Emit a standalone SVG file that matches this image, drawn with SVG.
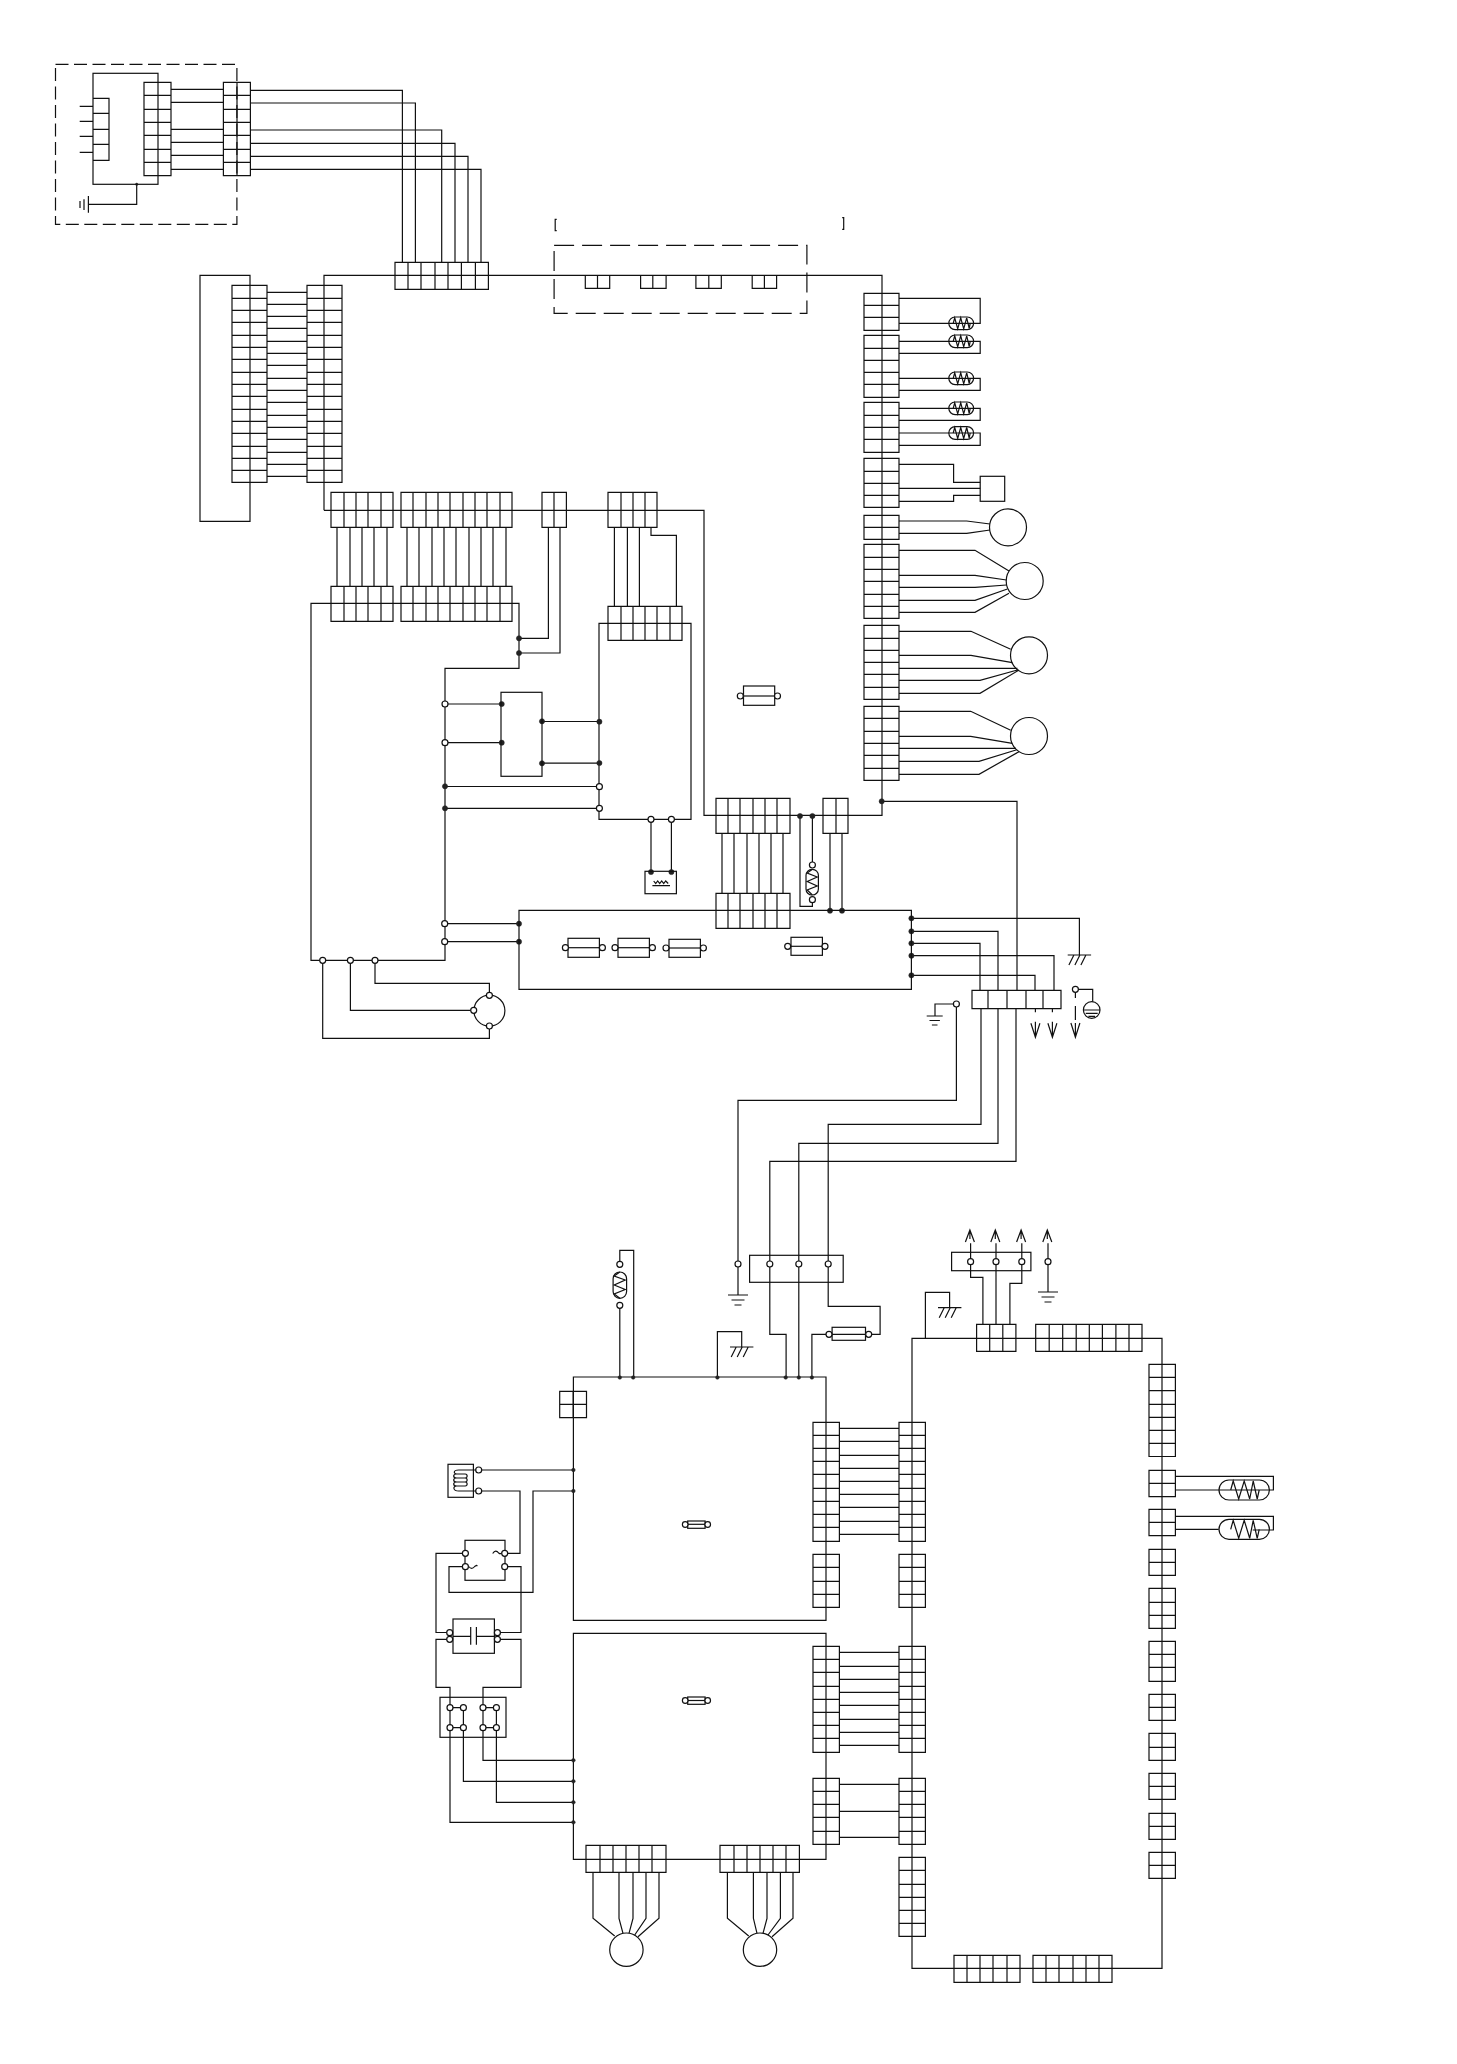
<svg xmlns="http://www.w3.org/2000/svg" xmlns:xlink="http://www.w3.org/1999/xlink" width="1457" height="2064" viewBox="0 0 1457 2064">
<style>
path,rect,circle,line{fill:none;stroke:#111;stroke-width:1.2}
.o{fill:#fff}
.f{fill:#222;stroke:#222;stroke-width:.5}
.d{stroke-dasharray:13 5.5}
.e{stroke-dasharray:20 8}
</style>
<defs>
<g id="th"><rect x="-12.4" y="-6.3" width="24.8" height="12.6" rx="6.3"/><path d="M-8-0L-6.5-5.5-3.5 5.5-.5-5.5 2.5 5.5 5.5-5.5 8 5 9-0"/></g>
<g id="heat"><rect x="-25.2" y="-10" width="50.4" height="20" rx="10"/><path d="M-13.5 0L-11-9-5.5 9 0-9 5.5 9 9-9 13 9 15 0"/></g>
<g id="ar"><path d="M0 0V9M-4.5 12L0 0 4.5 12"/></g>
<g id="ard"><path d="M0 0V3.6M0 13V28.6M-4.5 14.5L0 28.6 4.5 14.5"/></g>
<g id="hatch"><path d="M-11.7 0H11.7M-5.5 0L-10.5 10M.5 0L-4.5 10M6.5 0L1.5 10"/></g>
<g id="gnd"><path d="M-10 0H10M-6.5 5H6.5M-3.5 10H3.5"/></g>
</defs>
<g transform="translate(.7 0)">
<g id="connectors">
<path d="M170.3 89.3H222.7M170.3 102.3H222.7M170.3 129.3H222.7M170.3 142.3H222.7M170.3 155.3H222.7M170.3 169.3H222.7"/>
<path d="M249.7 90.3H401.7V262.3M249.7 103H414.7V262.3M249.7 130H441V262.3M249.7 143.3H454.3V262.3M249.7 156.3H467.3V262.3M249.7 169.3H480.3V262.3"/>
<path d="M136 184.3V204.3H87.7M87.7 196V212.7M83.3 199.3V210M79.3 201V208"/>
<path d="M79 106.3H92.3M79 121.3H92.3M79 136.3H92.3M79 152.3H92.3"/>
<path d="M323.3 510.3V275.3H881.3V815.3H703.3V510.3H323.3"/>
<path d="M199.3 275.3H249.3V521.3H199.3Z"/>
<path d="M266.3 292.3H306.3M266.3 304.3H306.3M266.3 316.3H306.3M266.3 328.3H306.3M266.3 341.3H306.3M266.3 353.3H306.3M266.3 365.3H306.3M266.3 378.3H306.3M266.3 390.3H306.3M266.3 402.3H306.3M266.3 415.3H306.3M266.3 427.3H306.3M266.3 439.3H306.3M266.3 452.3H306.3M266.3 464.3H306.3M266.3 476.3H306.3"/>
<path d="M336.3 527.3V586.3M349.3 527.3V586.3M361.3 527.3V586.3M373.3 527.3V586.3M386.3 527.3V586.3M406.3 527.3V586.3M418.3 527.3V586.3M431.3 527.3V586.3M443.3 527.3V586.3M455.3 527.3V586.3M468.3 527.3V586.3M480.3 527.3V586.3M492.3 527.3V586.3M505.3 527.3V586.3"/>
<path d="M310.3 603.3H518.3V668.3H444.3V960.3H310.3Z"/>
<path d="M518.3 638.3H547.7V527.3M518.3 653H559.3V527.3"/>
<path d="M613.7 527.3V606.3M626.7 527.3V606.3M638.7 527.3V606.3M650.3 527.3V535.3H675.7V606.3"/>
<path d="M598.3 623.3H690.3V819.3H598.3Z"/>
<path d="M650.3 819.3V872M670.7 819.3V872"/>
<path d="M444.3 704H501M444.3 742.7H501M541.3 721.5H598.3M541.3 763.2H598.3M444.3 786.5H598.3M444.3 808.3H598.3M444.3 923.7H518.3M444.3 941.7H518.3"/>
<path d="M374.3 960.3V983.3H488.7V995.3M349.7 960.3V1010.3H473M322 960.3V1038.3H488.7V1026"/>
<path d="M721.3 833.3V893.3M733.3 833.3V893.3M746.3 833.3V893.3M758.3 833.3V893.3M770.3 833.3V893.3M782.3 833.3V893.3"/>
<path d="M829.3 833.3V910.3M841.3 833.3V910.3M799.3 816V906.3H811.7V899.7M811.7 816V865"/>
<path d="M881.3 801.3H1016.3V990.3M910.7 918.3H1078.7V955M910.7 931.3H997.3V990.3M910.7 943.3H979.3V990.3M910.7 955.7H1053.3V990.3M910.7 975.3H1034.3V990.3"/>
<path d="M1074.7 989.3H1092V1001.7M1074.7 992V998M1074.7 1006V1020"/>
<path d="M955.7 1004H934.3V1016M955.7 1004V1100.3H737.3V1295"/>
<path d="M980.3 1008.7V1124.3H827.5V1306.3H879.4V1334.3H868M997.3 1008.7V1143.3H798.1V1377M1015.3 1008.7V1161.3H769.1V1334.3H785.4V1377"/>
<path d="M828.3 1334.3H811.2V1377"/>
<path d="M898.3 298.3H979.5V323.3H898.3M898.3 341.3H979.5V353.3H898.3M898.3 378.3H979.5V390.3H898.3M898.3 408.3H979.5V420.3H898.3M898.3 433H979.5V445.3H898.3"/>
<path d="M898.3 464.3H952.9V482.3H979.5M898.3 488.3H979.5M979.5 495.3H952.9V501.3H898.3"/>
<path d="M898.3 521H966L989.3 524M898.3 533.3H966L989.3 530"/>
<path d="M898.3 550.3H974.3L1008.3 571M898.3 575.3H974.3L1005.7 580M898.3 587.3H974.3L1005.7 585M898.3 600.3H974.3L1006.7 589M898.3 612.3H974.3L1008.3 593.3"/>
<path d="M898.3 631.3H970.3L1010 649.3M898.3 655.3H970.3L1011.7 662.7M898.3 668.3H1016.7M898.3 680.3H979.3L1016.7 670M898.3 693.3H979.3L1018.3 670"/>
<path d="M898.3 711.3H970L1010 730.3M898.3 736.3H970L1011.7 743.3M898.3 748.3H1015.3M898.3 761.3H978.3L1015.3 750M898.3 774.3H978.3L1018.3 751.7"/>
<path d="M619.1 1377V1305.3M619.1 1264.3V1250.3H633V1377"/>
<path d="M716.7 1377V1331.7H741V1347"/>
<path d="M838.7 1428.3H898.3M838.7 1441.3H898.3M838.7 1455.3H898.3M838.7 1468.3H898.3M838.7 1481.3H898.3M838.7 1494.3H898.3M838.7 1507.3H898.3M838.7 1521.3H898.3M838.7 1534.3H898.3"/>
<path d="M838.7 1652.3H898.3M838.7 1666.3H898.3M838.7 1679.3H898.3M838.7 1692.3H898.3M838.7 1705.3H898.3M838.7 1719.3H898.3M838.7 1732.3H898.3M838.7 1745.3H898.3M838.7 1784.3H898.3M838.7 1811.3H898.3M838.7 1837.3H898.3"/>
<path d="M572.7 1377H825.3V1620.3H572.7ZM572.7 1633.3H825.3V1859.3H572.7Z"/>
<path d="M911.3 1968.3V1338.3H1161.3V1968.3Z"/>
<path d="M1174.7 1476.3H1272.7V1490H1174.7M1174.7 1516.3H1272.7V1530H1252M1174.7 1529.3H1218"/>
<path d="M982.2 1324.3V1277.3H969.9V1261.7M995.3 1324.3V1261.7M1009.2 1324.3V1283.3H1021.1V1261.7"/>
<path d="M1047.3 1261.7V1292"/>
<path d="M924.7 1338.3V1292.3H948.9V1307.7"/>
<path d="M478 1470H572.7M478 1491H519.3V1553.3H504M572.7 1491H532.3V1592.3H448.3V1566.7H464.7M464.7 1553.3H435.3V1632.5H449M504 1566.7H520.3V1632.5H496.7M449 1639.3H435.3V1687.3H449.3V1707.7M496.7 1639.3H520.3V1687.3H482.3V1707.7"/>
<path d="M449.3 1727.7V1822.3H572.7M462.7 1727.7V1781.3H572.7M482.3 1727.7V1760.3H572.7M495.7 1727.7V1802.3H572.7"/>
<path d="M592.3 1872.3V1918.3L614 1936M618.3 1872.3V1918.3L622.3 1933.3M632.3 1872.3V1918.3L628.3 1933.3M645.3 1872.3V1918.3L634 1935M658.3 1872.3V1918.3L637.3 1936.7"/>
<path d="M726.7 1872.3V1918.3L748 1936M752.7 1872.3V1918.3L756.3 1933.3M766.3 1872.3V1918.3L762.3 1933.3M779.7 1872.3V1918.3L767.3 1935M792.3 1872.3V1918.3L771.3 1936.7"/>
<g id="dots">
<circle class="f" cx="518.3" cy="638.3" r="2.6"/><circle class="f" cx="518.3" cy="653" r="2.6"/>
<circle class="f" cx="501" cy="704" r="2.6"/><circle class="f" cx="501" cy="742.7" r="2.6"/>
<circle class="f" cx="541.3" cy="721.3" r="2.6"/><circle class="f" cx="541.3" cy="763.3" r="2.6"/>
<circle class="f" cx="598.7" cy="721.7" r="2.6"/><circle class="f" cx="598.7" cy="763" r="2.6"/>
<circle class="f" cx="444.3" cy="786.3" r="2.6"/><circle class="f" cx="444.3" cy="808.3" r="2.6"/>
<circle class="f" cx="518.3" cy="923.7" r="2.6"/><circle class="f" cx="518.3" cy="941.7" r="2.6"/>
<circle class="f" cx="650.3" cy="872" r="2.6"/><circle class="f" cx="670.7" cy="872" r="2.6"/>
<circle class="f" cx="881" cy="801.3" r="2.6"/>
<circle class="f" cx="799.3" cy="816" r="2.6"/><circle class="f" cx="811.7" cy="816" r="2.6"/>
<circle class="f" cx="829.3" cy="910.7" r="2.6"/><circle class="f" cx="841.3" cy="910.7" r="2.6"/>
<circle class="f" cx="910.7" cy="918.3" r="2.6"/><circle class="f" cx="910.7" cy="931.3" r="2.6"/><circle class="f" cx="910.7" cy="943.3" r="2.6"/><circle class="f" cx="910.7" cy="955.7" r="2.6"/><circle class="f" cx="910.7" cy="975.3" r="2.6"/>
<circle class="f" cx="136" cy="184.3" r="1.2"/>
<circle class="f" cx="619.1" cy="1377.5" r="1.8"/><circle class="f" cx="632.5" cy="1377.5" r="1.8"/><circle class="f" cx="716.7" cy="1377.5" r="1.8"/><circle class="f" cx="785" cy="1377.5" r="1.8"/><circle class="f" cx="798.1" cy="1377.5" r="1.8"/><circle class="f" cx="811.2" cy="1377.5" r="1.8"/>
<circle class="f" cx="572.7" cy="1470" r="1.8"/><circle class="f" cx="572.7" cy="1491" r="1.8"/>
<circle class="f" cx="572.7" cy="1760.3" r="1.8"/><circle class="f" cx="572.7" cy="1781.3" r="1.8"/><circle class="f" cx="572.7" cy="1802.3" r="1.8"/><circle class="f" cx="572.7" cy="1822.3" r="1.8"/>
<circle class="o" cx="444.3" cy="704" r="3"/><circle class="o" cx="444.3" cy="742.7" r="3"/><circle class="o" cx="598.7" cy="786.7" r="3"/><circle class="o" cx="598.7" cy="808.3" r="3"/>
<circle class="o" cx="650.3" cy="819.3" r="3"/><circle class="o" cx="670.7" cy="819.3" r="3"/>
<circle class="o" cx="444" cy="923.7" r="3"/><circle class="o" cx="444" cy="941.7" r="3"/>
<circle class="o" cx="322" cy="960.3" r="3"/><circle class="o" cx="349.7" cy="960.3" r="3"/><circle class="o" cx="374.3" cy="960.3" r="3"/>
</g>
</g>
<g id="remote-box">
<rect class="d" x="54.8" y="64.3" width="181.4" height="160"/>
<rect x="92.3" y="73.3" width="65" height="111"/>
<path d="M92.3 98.3H108.3V160.3H92.3M92.3 113.3H108.3M92.3 129.3H108.3M92.3 144.3H108.3"/>
</g>
<g id="cn-a"><path d="M143.3 82.3H170.3V175.7H143.3ZM143.3 95.3H170.3M143.3 109.3H170.3M143.3 122.3H170.3M143.3 135.3H170.3M143.3 149.3H170.3M143.3 162.3H170.3"/></g>
<g id="cn-b"><path d="M222.7 82.3H249.7V175.7H222.7ZM236.3 82.3V175.7M222.7 95.3H249.7M222.7 109.3H249.7M222.7 122.3H249.7M222.7 135.3H249.7M222.7 149.3H249.7M222.7 162.3H249.7"/></g>
<g id="cn-c"><path d="M394.3 262.3H487.7V289.3H394.3ZM407.3 262.3V289.3M420.3 262.3V289.3M434.3 262.3V289.3M447.3 262.3V289.3M460.7 262.3V289.3M474.7 262.3V289.3"/></g>
<g id="cn-d"><path d="M231.3 285.3H266.3V482.3H231.3ZM231.3 298.3H266.3M231.3 310.3H266.3M231.3 322.3H266.3M231.3 335.3H266.3M231.3 347.3H266.3M231.3 359.3H266.3M231.3 372.3H266.3M231.3 384.3H266.3M231.3 396.3H266.3M231.3 409.3H266.3M231.3 421.3H266.3M231.3 433.3H266.3M231.3 446.3H266.3M231.3 458.3H266.3M231.3 470.3H266.3"/></g>
<g id="cn-e"><path d="M306.3 285.3H341.3V482.3H306.3ZM306.3 298.3H341.3M306.3 310.3H341.3M306.3 322.3H341.3M306.3 335.3H341.3M306.3 347.3H341.3M306.3 359.3H341.3M306.3 372.3H341.3M306.3 384.3H341.3M306.3 396.3H341.3M306.3 409.3H341.3M306.3 421.3H341.3M306.3 433.3H341.3M306.3 446.3H341.3M306.3 458.3H341.3M306.3 470.3H341.3"/></g>
<g id="vent-connectors">
<path d="M584.6 275.3V288.3H609V275.3M596.8 275.3V288.3M639.9 275.3V288.3H665.4V275.3M652.1 275.3V288.3M695.2 275.3V288.3H720.6V275.3M708.1 275.3V288.3M751.5 275.3V288.3H775.9V275.3M763.7 275.3V288.3"/>
<rect class="e" x="553.4" y="245.3" width="252.8" height="68"/>
<path d="M556 219.3H554.5V230.7H556M841.5 217.7H843V229.3H841.5"/>
</g>
<g id="cn-f1"><path d="M330.3 492.3H392.3V527.3H330.3ZM343.3 492.3V527.3M355.3 492.3V527.3M367.3 492.3V527.3M380.3 492.3V527.3"/></g>
<g id="cn-f2"><path d="M400.3 492.3H511.3V527.3H400.3ZM412.3 492.3V527.3M425.3 492.3V527.3M437.3 492.3V527.3M449.3 492.3V527.3M462.3 492.3V527.3M474.3 492.3V527.3M486.3 492.3V527.3M499.3 492.3V527.3"/></g>
<g id="cn-f3"><path d="M541.3 492.3H565.7V527.3H541.3ZM553.3 492.3V527.3"/></g>
<g id="cn-f4"><path d="M607.3 492.3H656.3V527.3H607.3ZM620.3 492.3V527.3M632.3 492.3V527.3M644.3 492.3V527.3"/></g>
<g id="cn-g1"><path d="M330.3 586.3H392.3V621.3H330.3ZM343.3 586.3V621.3M355.3 586.3V621.3M367.3 586.3V621.3M380.3 586.3V621.3"/></g>
<g id="cn-g2"><path d="M400.3 586.3H511.3V621.3H400.3ZM412.3 586.3V621.3M425.3 586.3V621.3M437.3 586.3V621.3M449.3 586.3V621.3M462.3 586.3V621.3M474.3 586.3V621.3M486.3 586.3V621.3M499.3 586.3V621.3"/></g>
<g id="cn-g3"><path d="M607.3 606.3H681.3V640.3H607.3ZM620.3 606.3V640.3M632.3 606.3V640.3M644.3 606.3V640.3M656.3 606.3V640.3M669.3 606.3V640.3"/></g>
<g id="relay-h"><rect x="500.3" y="692.3" width="41" height="84"/></g>
<g id="heater-w"><rect x="644.3" y="871.3" width="31.4" height="22.4"/><path d="M651.7 885.7H669.3M653 881L655 883.5 657 881 659 883.5 661 881 663 883.5 665 881 667.5 883.5"/></g>
<g id="fan-m"><circle cx="488.7" cy="1010.7" r="15.5"/><circle class="o" cx="488.7" cy="995.3" r="3"/><circle class="o" cx="473" cy="1010.3" r="3"/><circle class="o" cx="488.7" cy="1026" r="3"/></g>
<g id="board-main-fuse"><rect x="742.8" y="686" width="31.2" height="19.3"/><path d="M742.8 696H774"/><circle class="o" cx="739.6" cy="696" r="3"/><circle class="o" cx="776.8" cy="696" r="3"/></g>
<g id="cn-j"><path d="M715.3 798.3H789.3V833.3H715.3ZM727.3 798.3V833.3M739.3 798.3V833.3M752.3 798.3V833.3M764.3 798.3V833.3M776.3 798.3V833.3"/></g>
<g id="cn-k"><path d="M715.3 893.3H789.3V928.3H715.3ZM727.3 893.3V928.3M739.3 893.3V928.3M752.3 893.3V928.3M764.3 893.3V928.3M776.3 893.3V928.3"/></g>
<g id="cn-m"><path d="M822.3 798.3H847.3V833.3H822.3ZM835.3 798.3V833.3"/></g>
<g id="th-v"><rect x="805.3" y="869.3" width="12.4" height="25.7" rx="6"/><path d="M811.7 869.3L806.5 873 816.5 877 806.5 881.5 816.5 886 806.5 890 811.7 895"/><circle class="o" cx="811.7" cy="865" r="3"/><circle class="o" cx="811.7" cy="899.7" r="3"/></g>
<g id="board-bottom">
<path d="M518.3 910.3H910.7V989.3H518.3Z"/>
<rect x="567.3" y="938.3" width="31.4" height="19"/><path d="M567.3 947.7H598.7"/><circle class="o" cx="564.7" cy="947.7" r="3"/><circle class="o" cx="601.7" cy="947.7" r="3"/>
<rect x="617.3" y="938.3" width="31.4" height="19"/><path d="M617.3 947.7H648.7"/><circle class="o" cx="614.3" cy="947.7" r="3"/><circle class="o" cx="651.7" cy="947.7" r="3"/>
<rect x="668.3" y="939.3" width="31.4" height="18"/><path d="M668.3 948H699.7"/><circle class="o" cx="665.3" cy="948" r="3"/><circle class="o" cx="702.7" cy="948" r="3"/>
<rect x="790.3" y="937.3" width="31.4" height="18"/><path d="M790.3 946.3H821.7"/><circle class="o" cx="787" cy="946.3" r="3"/><circle class="o" cx="824.3" cy="946.3" r="3"/>
</g>
<g id="cn-l"><path d="M971.3 990.3H1060.3V1008.7H971.3ZM987.3 990.3V1008.7M1006.3 990.3V1008.7M1025.3 990.3V1008.7M1042.3 990.3V1008.7"/></g>
<g id="outlets">
<use xlink:href="#ard" href="#ard" x="1034.7" y="1008.7"/>
<use xlink:href="#ard" href="#ard" x="1051.7" y="1008.7"/>
<path d="M1074.7 1023V1037.3M1070.2 1023L1074.7 1037.3 1079.2 1023"/>
<circle class="o" cx="1074.7" cy="989.3" r="3"/>
<use xlink:href="#hatch" href="#hatch" x="1078.7" y="955"/>
<circle cx="1091" cy="1010" r="8.3"/><path d="M1082.7 1010H1099.3M1085 1013.3H1097M1087.7 1016.3H1094.3"/>
<use xlink:href="#gnd" href="#gnd" transform="translate(934 1016) scale(.8 .9)"/>
<circle class="o" cx="955.7" cy="1004" r="3"/>
</g>
<g id="cn-r">
<path d="M863.3 293.3H898.3V330.3H863.3ZM863.3 305.3H898.3M863.3 317.3H898.3"/>
<path d="M863.3 335.3H898.3V397.3H863.3ZM863.3 348.3H898.3M863.3 360.3H898.3M863.3 372.3H898.3M863.3 384.3H898.3"/>
<path d="M863.3 402.3H898.3V452.3H863.3ZM863.3 415.3H898.3M863.3 427.3H898.3M863.3 439.3H898.3"/>
<path d="M863.3 458.3H898.3V507.3H863.3ZM863.3 471.3H898.3M863.3 483.3H898.3M863.3 495.3H898.3"/>
<path d="M863.3 515.3H898.3V539.3H863.3ZM863.3 527.3H898.3"/>
<path d="M863.3 544.3H898.3V618.3H863.3ZM863.3 557.3H898.3M863.3 569.3H898.3M863.3 581.3H898.3M863.3 594.3H898.3M863.3 606.3H898.3"/>
<path d="M863.3 625.3H898.3V699.3H863.3ZM863.3 638.3H898.3M863.3 650.3H898.3M863.3 662.3H898.3M863.3 674.3H898.3M863.3 687.3H898.3"/>
<path d="M863.3 706.3H898.3V780.3H863.3ZM863.3 718.3H898.3M863.3 731.3H898.3M863.3 743.3H898.3M863.3 755.3H898.3M863.3 768.3H898.3"/>
</g>
<g id="sensors">
<use xlink:href="#th" href="#th" x="960.5" y="323.3"/>
<use xlink:href="#th" href="#th" x="960.5" y="341.3"/>
<use xlink:href="#th" href="#th" x="960.5" y="378.3"/>
<use xlink:href="#th" href="#th" x="960.5" y="408.3"/>
<use xlink:href="#th" href="#th" x="960.5" y="433"/>
</g>
<g id="device"><rect x="979.5" y="476.3" width="24.5" height="25"/></g>
<g id="m1"><circle cx="1007.3" cy="527.3" r="18.5"/></g>
<g id="m2"><circle cx="1024" cy="581" r="18.5"/></g>
<g id="m3"><circle cx="1028.3" cy="655.3" r="18.5"/></g>
<g id="m4"><circle cx="1028.3" cy="736" r="18.5"/></g>
<g id="thermo-top"><rect x="612.4" y="1272" width="13.5" height="26.3" rx="6.7"/><path d="M619.1 1272L613.5 1276 624.5 1280 613.5 1285 624.5 1289.5 613.5 1294 619.1 1298.3"/><circle class="o" cx="619.1" cy="1264.3" r="3"/><circle class="o" cx="619.1" cy="1305.3" r="3"/></g>
<g id="grounds">
<use xlink:href="#hatch" href="#hatch" x="741" y="1347"/>
<use xlink:href="#hatch" href="#hatch" x="949" y="1307.7"/>
<use xlink:href="#gnd" href="#gnd" x="737.3" y="1295"/>
<use xlink:href="#gnd" href="#gnd" x="1047.3" y="1292"/>
</g>
<g id="term-n"><rect x="748.9" y="1255.3" width="93.6" height="27"/><circle class="o" cx="737.3" cy="1264" r="3"/><circle class="o" cx="769.1" cy="1264" r="3"/><circle class="o" cx="798.1" cy="1264" r="3"/><circle class="o" cx="827.5" cy="1264" r="3"/></g>
<g id="fuse-t"><rect x="831.4" y="1327.3" width="33.4" height="13"/><path d="M831.4 1334.3H864.8"/><circle class="o" cx="828.3" cy="1334.3" r="3"/><circle class="o" cx="868" cy="1334.3" r="3"/></g>
<g id="cn-small"><path d="M559 1391.3H585.8V1417.7H559ZM559 1404.3H585.8M572.5 1391.3V1417.7"/></g>
<g id="fuse-a"><rect x="687" y="1521" width="17.4" height="7.3"/><path d="M687 1524.3H704.4"/><circle class="o" cx="684.5" cy="1524.5" r="2.8"/><circle class="o" cx="707" cy="1524.5" r="2.8"/></g>
<g id="fuse-b"><rect x="687" y="1697" width="17.4" height="7.3"/><path d="M687 1700.5H704.4"/><circle class="o" cx="684.5" cy="1700.5" r="2.8"/><circle class="o" cx="707" cy="1700.5" r="2.8"/></g>
<g id="cn-p">
<path d="M812.3 1422.3H838.7V1541.3H812.3ZM812.3 1435.3H838.7M812.3 1448.3H838.7M812.3 1461.3H838.7M812.3 1474.3H838.7M812.3 1488.3H838.7M812.3 1501.3H838.7M812.3 1514.3H838.7M812.3 1527.3H838.7"/>
<path d="M812.3 1554.3H838.7V1607.3H812.3ZM812.3 1567.3H838.7M812.3 1581.3H838.7M812.3 1594.3H838.7"/>
<path d="M812.3 1646.3H838.7V1752.3H812.3ZM812.3 1659.3H838.7M812.3 1672.3H838.7M812.3 1686.3H838.7M812.3 1699.3H838.7M812.3 1712.3H838.7M812.3 1725.3H838.7M812.3 1738.3H838.7"/>
<path d="M812.3 1778.3H838.7V1844.3H812.3ZM812.3 1791.3H838.7M812.3 1804.3H838.7M812.3 1817.3H838.7M812.3 1831.3H838.7"/>
</g>
<g id="cn-q">
<path d="M898.3 1422.3H924.7V1541.3H898.3ZM898.3 1435.3H924.7M898.3 1448.3H924.7M898.3 1461.3H924.7M898.3 1474.3H924.7M898.3 1488.3H924.7M898.3 1501.3H924.7M898.3 1514.3H924.7M898.3 1527.3H924.7"/>
<path d="M898.3 1554.3H924.7V1607.3H898.3ZM898.3 1567.3H924.7M898.3 1581.3H924.7M898.3 1594.3H924.7"/>
<path d="M898.3 1646.3H924.7V1752.3H898.3ZM898.3 1659.3H924.7M898.3 1672.3H924.7M898.3 1686.3H924.7M898.3 1699.3H924.7M898.3 1712.3H924.7M898.3 1725.3H924.7M898.3 1738.3H924.7"/>
<path d="M898.3 1778.3H924.7V1844.3H898.3ZM898.3 1791.3H924.7M898.3 1804.3H924.7M898.3 1817.3H924.7M898.3 1831.3H924.7"/>
<path d="M898.3 1857.3H924.7V1936.3H898.3ZM898.3 1870.3H924.7M898.3 1884.3H924.7M898.3 1897.3H924.7M898.3 1910.3H924.7M898.3 1923.3H924.7"/>
</g>
<g id="cn-s">
<path d="M1148.3 1364.3H1174.7V1456.5H1148.3ZM1148.3 1377.3H1174.7M1148.3 1390.7H1174.7M1148.3 1404.3H1174.7M1148.3 1417.3H1174.7M1148.3 1430.3H1174.7M1148.3 1443.3H1174.7"/>
<path d="M1148.3 1470.3H1174.7V1496.7H1148.3ZM1148.3 1483.3H1174.7"/>
<path d="M1148.3 1509.3H1174.7V1535.7H1148.3ZM1148.3 1522.3H1174.7"/>
<path d="M1148.3 1549.3H1174.7V1575.3H1148.3ZM1148.3 1562.3H1174.7"/>
<path d="M1148.3 1588.3H1174.7V1628.3H1148.3ZM1148.3 1602.3H1174.7M1148.3 1615.3H1174.7"/>
<path d="M1148.3 1641.3H1174.7V1681.3H1148.3ZM1148.3 1654.3H1174.7M1148.3 1667.3H1174.7"/>
<path d="M1148.3 1694.3H1174.7V1720.3H1148.3ZM1148.3 1707.3H1174.7"/>
<path d="M1148.3 1733.3H1174.7V1760.3H1148.3ZM1148.3 1747.3H1174.7"/>
<path d="M1148.3 1773.3H1174.7V1799.3H1148.3ZM1148.3 1786.3H1174.7"/>
<path d="M1148.3 1813.3H1174.7V1839.3H1148.3ZM1148.3 1826.3H1174.7"/>
<path d="M1148.3 1852.3H1174.7V1878.3H1148.3ZM1148.3 1865.3H1174.7"/>
</g>
<g id="heaters">
<use xlink:href="#heat" href="#heat" x="1243.5" y="1490"/>
<use xlink:href="#heat" href="#heat" x="1243.5" y="1529.3"/>
</g>
<g id="cn-t1"><path d="M975.9 1324.3H1015.2V1351.3H975.9ZM989 1324.3V1351.3M1002.1 1324.3V1351.3"/></g>
<g id="cn-t2"><path d="M1035 1324.3H1141.3V1351.3H1035ZM1048.5 1324.3V1351.3M1062 1324.3V1351.3M1075.5 1324.3V1351.3M1088.6 1324.3V1351.3M1101.7 1324.3V1351.3M1115.2 1324.3V1351.3M1128.3 1324.3V1351.3"/></g>
<g id="term-u">
<rect x="950.9" y="1252.3" width="79.3" height="18.4"/>
<use xlink:href="#ar" href="#ar" x="969.2" y="1230"/><use xlink:href="#ar" href="#ar" x="994.6" y="1230"/><use xlink:href="#ar" href="#ar" x="1020.4" y="1230"/><use xlink:href="#ar" href="#ar" x="1046.6" y="1230"/>
<path d="M969.9 1243.3V1261M995.3 1243.3V1261M1021.1 1243.3V1261M1047.3 1243.3V1261"/>
<circle class="o" cx="969.9" cy="1261.7" r="3"/><circle class="o" cx="995.3" cy="1261.7" r="3"/><circle class="o" cx="1021.1" cy="1261.7" r="3"/><circle class="o" cx="1047.3" cy="1261.7" r="3"/>
</g>
<g id="cn-b1"><path d="M953.3 1955.3H1019.3V1982.3H953.3ZM966.3 1955.3V1982.3M979.3 1955.3V1982.3M992.3 1955.3V1982.3M1006.3 1955.3V1982.3"/></g>
<g id="cn-b2"><path d="M1032.3 1955.3H1111.3V1982.3H1032.3ZM1045.3 1955.3V1982.3M1058.3 1955.3V1982.3M1072.3 1955.3V1982.3M1085.3 1955.3V1982.3M1098.3 1955.3V1982.3"/></g>
<g id="coil"><rect x="447.3" y="1464.3" width="25.4" height="33"/><path d="M458 1470H478M458 1491H478M458 1470C452 1470 453 1474 456 1474H465M456 1474C452 1474 452 1478 456 1478H465M456 1478C452 1478 452 1482 456 1482H465M456 1482C452 1482 452 1486 456 1486H465M456 1486C452 1486 452 1491 458 1491M465 1474C467 1475 467 1477 465 1478M465 1478C467 1479 467 1481 465 1482M465 1482C467 1483 467 1485 465 1486"/><circle class="o" cx="478" cy="1470" r="3"/><circle class="o" cx="478" cy="1491" r="3"/></g>
<g id="relay"><rect x="464.3" y="1540.3" width="40" height="40"/><path d="M492 1553.5C494 1550.5 496 1550.5 498 1553C499 1554 500 1554 501 1553M468 1566.5C470 1569 472 1569 474 1566.5C475.5 1565 477 1565 476 1566"/><circle class="o" cx="464.7" cy="1553.3" r="3"/><circle class="o" cx="464.7" cy="1566.7" r="3"/><circle class="o" cx="504" cy="1553.3" r="3"/><circle class="o" cx="504" cy="1566.7" r="3"/></g>
<g id="capacitor"><rect x="452.3" y="1619" width="41.4" height="34.3"/><path d="M452.3 1636.3H470M475.7 1636.3H493.7M470 1627V1644.7M475.7 1627V1644.7"/><circle class="o" cx="449" cy="1632.7" r="3"/><circle class="o" cx="449" cy="1639.3" r="3"/><circle class="o" cx="496.7" cy="1632.7" r="3"/><circle class="o" cx="496.7" cy="1639.3" r="3"/></g>
<g id="switch"><rect x="439.3" y="1697.3" width="66" height="40"/><path d="M449.3 1707.7H462.7V1727.7H449.3ZM482.3 1707.7H495.7V1727.7H482.3Z"/><circle class="o" cx="449.3" cy="1707.7" r="3"/><circle class="o" cx="462.7" cy="1707.7" r="3"/><circle class="o" cx="482.3" cy="1707.7" r="3"/><circle class="o" cx="495.7" cy="1707.7" r="3"/><circle class="o" cx="449.3" cy="1727.7" r="3"/><circle class="o" cx="462.7" cy="1727.7" r="3"/><circle class="o" cx="482.3" cy="1727.7" r="3"/><circle class="o" cx="495.7" cy="1727.7" r="3"/></g>
<g id="cn-v1"><path d="M585.3 1845.3H665.3V1872.3H585.3ZM599.3 1845.3V1872.3M612.3 1845.3V1872.3M625.3 1845.3V1872.3M638.3 1845.3V1872.3M651.3 1845.3V1872.3"/></g>
<g id="cn-v2"><path d="M719.3 1845.3H798.7V1872.3H719.3ZM733.3 1845.3V1872.3M746.3 1845.3V1872.3M759.3 1845.3V1872.3M772.3 1845.3V1872.3M785.3 1845.3V1872.3"/></g>
<g id="m5"><circle cx="625.7" cy="1949.7" r="16.7"/></g>
<g id="m6"><circle cx="759.3" cy="1949.7" r="16.7"/></g>
</g>
</svg>
